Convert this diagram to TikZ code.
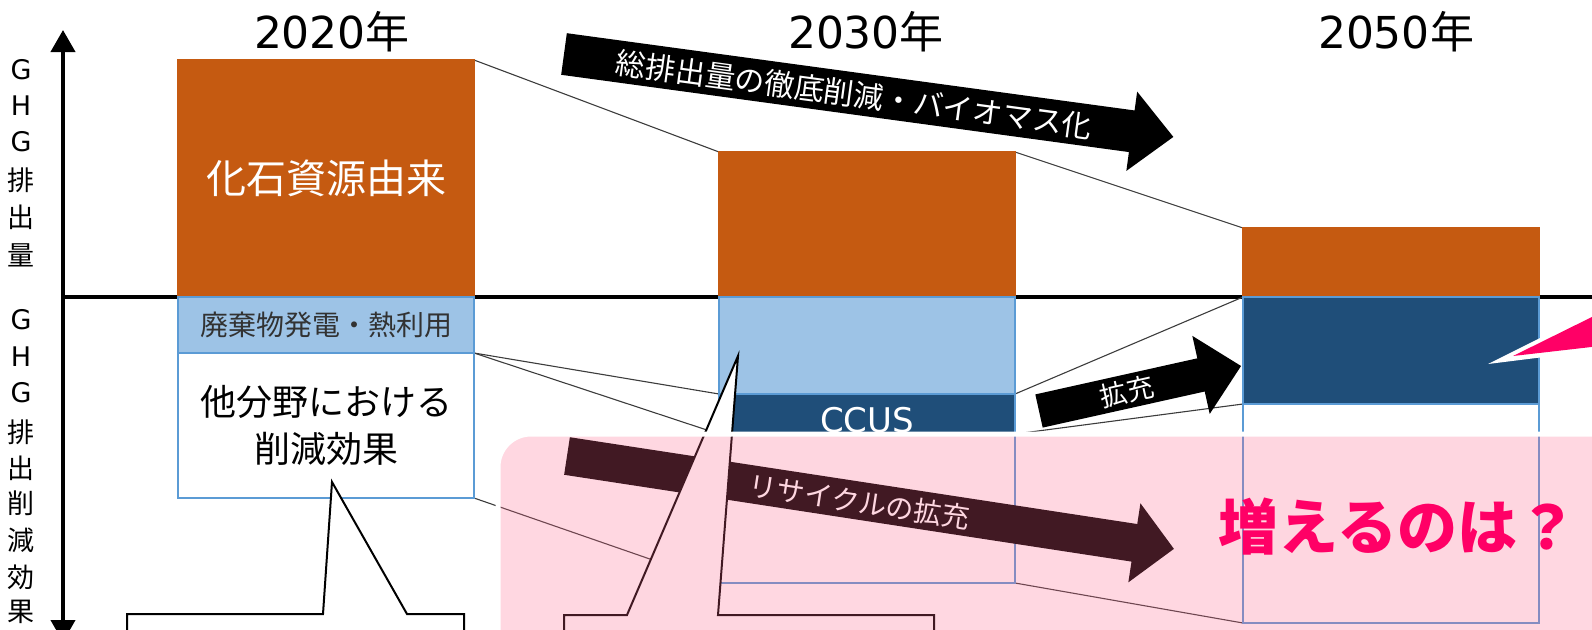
\documentclass[tikz,border=0pt]{standalone}
\usepackage{fontspec}
\setmainfont{Noto Sans CJK JP}
\newfontfamily\lat{DejaVu Sans}
\usetikzlibrary{arrows.meta}
\definecolor{orng}{RGB}{197,90,17}
\definecolor{lblue}{RGB}{157,195,230}
\definecolor{dblue}{RGB}{31,78,121}
\definecolor{bord}{RGB}{91,155,213}
\definecolor{pinkov}{RGB}{254,100,138}
\definecolor{mag}{RGB}{255,0,102}
\definecolor{conn}{RGB}{60,60,60}
\definecolor{txtgray}{RGB}{50,50,50}
\tikzset{
  fs/.style={font=\fontsize{#1}{#1}\selectfont},
  barbox/.style={inner sep=0pt, outer sep=0pt, anchor=north west, minimum width=296, line width=1.2},
  orangebar/.style={barbox, fill=orng, draw=orng},
  lbluebar/.style={barbox, fill=lblue, draw=bord},
  dbluebar/.style={barbox, fill=dblue, draw=bord},
  whitebar/.style={barbox, fill=white, draw=bord},
  connector/.style={draw=conn, line width=1.1},
  axislabel/.style={fs=27, inner sep=0pt, text=black},
  yeartitle/.style={fs=44, inner sep=0pt, text=black},
  callout/.style={fill=white, draw=black, line width=2, line join=miter},
  bigarrowfill/.style={fill=black},
}
\begin{document}
\begin{tikzpicture}[x=1pt,y=-1pt]
\useasboundingbox (0,0) rectangle (1592,629);
\clip (0,0) rectangle (1592,629);

% axes
\coordinate (vtop) at (63,30);
\coordinate (vbot) at (63,642);
\coordinate (hleft) at (61,297);
\coordinate (hright) at (1600,297);
\draw[line width=4, {Triangle[width=24pt,length=22pt]}-{Triangle[width=24pt,length=22pt]}] (vbot) -- (vtop);
\draw[line width=4] (hleft) -- (hright);

% axis labels
\foreach \t/\y [count=\i] in {{\lat G}/70,{\lat H}/106,{\lat G}/142,排/180,出/217,量/255}
  \node[axislabel] (up\i) at (21,\y) {\t};
\foreach \t/\y [count=\i] in {{\lat G}/320,{\lat H}/357,{\lat G}/393,排/432,出/468,削/503,減/540,効/577,果/612}
  \node[axislabel] (lo\i) at (21,\y) {\t};

% year titles
\node[yeartitle] (y20) at (332,32) {{\lat 2020}年};
\node[yeartitle] (y30) at (866,32) {{\lat 2030}年};
\node[yeartitle] (y50) at (1396,32) {{\lat 2050}年};

% connectors
\draw[connector] (474,60) coordinate (p1) -- (719,152) coordinate (p2);
\draw[connector] (474,353) coordinate (p3) -- (719,394) coordinate (p4);
\draw[connector] (p3) -- (719,434) coordinate (p5);
\draw[connector] (474,498) coordinate (p6) -- (719,583) coordinate (p7);
\draw[connector] (1015,152) coordinate (p8) -- (1243,228) coordinate (p9);
\draw[connector] (1015,394) coordinate (p10) -- (1243,297) coordinate (p11);
\draw[connector] (1015,434) coordinate (p12) -- (1243,404) coordinate (p13);
\draw[connector] (1015,583) coordinate (p14) -- (1243,623) coordinate (p15);

% 2020 bars
\node[orangebar, minimum height=237, text=white, fs=40] (o20) at (178,60) {化石資源由来};
\node[lbluebar, minimum height=56, text=txtgray, fs=28] (lb20) at (178,297) {廃棄物発電・熱利用};
\node[whitebar, minimum height=145, text=black, fs=36, align=center] (wb20) at (178,353) {他分野における\\[11pt]削減効果};
% 2030 bars
\node[orangebar, minimum height=145] (o30) at (719,152) {};
\node[lbluebar, minimum height=97] (lb30) at (719,297) {};
\node[dbluebar, minimum height=40] (cc30) at (719,394) {};
\node[text=white, fs=34, anchor=base, inner sep=0pt] (ccus) at (867,432) {\lat CCUS};
\node[whitebar, minimum height=149] (wb30) at (719,434) {};
% 2050 bars
\node[orangebar, minimum height=69] (o50) at (1243,228) {};
\node[dbluebar, minimum height=107] (db50) at (1243,297) {};
\node[whitebar, minimum height=219] (wb50) at (1243,404) {};

% big arrow
\begin{scope}[shift={(564,54)}, rotate=-7.75]
  \fill[bigarrowfill] (0,-21) -- (573,-21) -- (573,-40) -- (615,0) -- (573,40) -- (573,21) -- (0,21) -- cycle;
  \node[text=white, fs=30, rotate=-7.75, inner sep=0pt] (tA) at (293,1) {総排出量の徹底削減・バイオマス化};
\end{scope}
% expansion arrow
\begin{scope}[shift={(1039,411)}, rotate=12.56]
  \fill[bigarrowfill] (0,-17) -- (166,-17) -- (166,-40) -- (207,0) -- (166,40) -- (166,17) -- (0,17) -- cycle;
  \node[text=white, fs=27, rotate=12.56, inner sep=0pt] (tB) at (90,0) {拡充};
\end{scope}
% recycling arrow
\begin{scope}[shift={(567,456)}, rotate=-8.7]
  \fill[bigarrowfill] (0,-19) -- (574,-19) -- (574,-40) -- (614,0) -- (574,40) -- (574,19) -- (0,19) -- cycle;
  \node[text=white, fs=28, rotate=-8.7, inner sep=0pt] (tC) at (296,1) {リサイクルの拡充};
\end{scope}

% callouts
\filldraw[callout] (127,660) -- (127,614) -- (323,614) -- (332,482) -- (407,614) -- (464,614) -- (464,660) -- cycle;
\filldraw[callout] (564,660) -- (564,615) -- (627,615) -- (738,356) -- (718,615) -- (934,615) -- (934,660) -- cycle;

% pink overlay
\fill[pinkov, opacity=0.26, rounded corners=33] (498,434) rectangle (1660,720);
\draw[white, line width=5, rounded corners=33] (498,434) rectangle (1660,720);

% question
\node[text=mag, font=\fontsize{60}{60}\selectfont\bfseries, inner sep=0pt] (q) at (1398,527) {増えるのは？};

% magenta wedge
\fill[white] (1488,364) -- (1600,308) -- (1600,350) -- cycle;
\fill[mag] (1513,356) -- (1600,313) -- (1600,346) -- cycle;
\end{tikzpicture}
\end{document}
